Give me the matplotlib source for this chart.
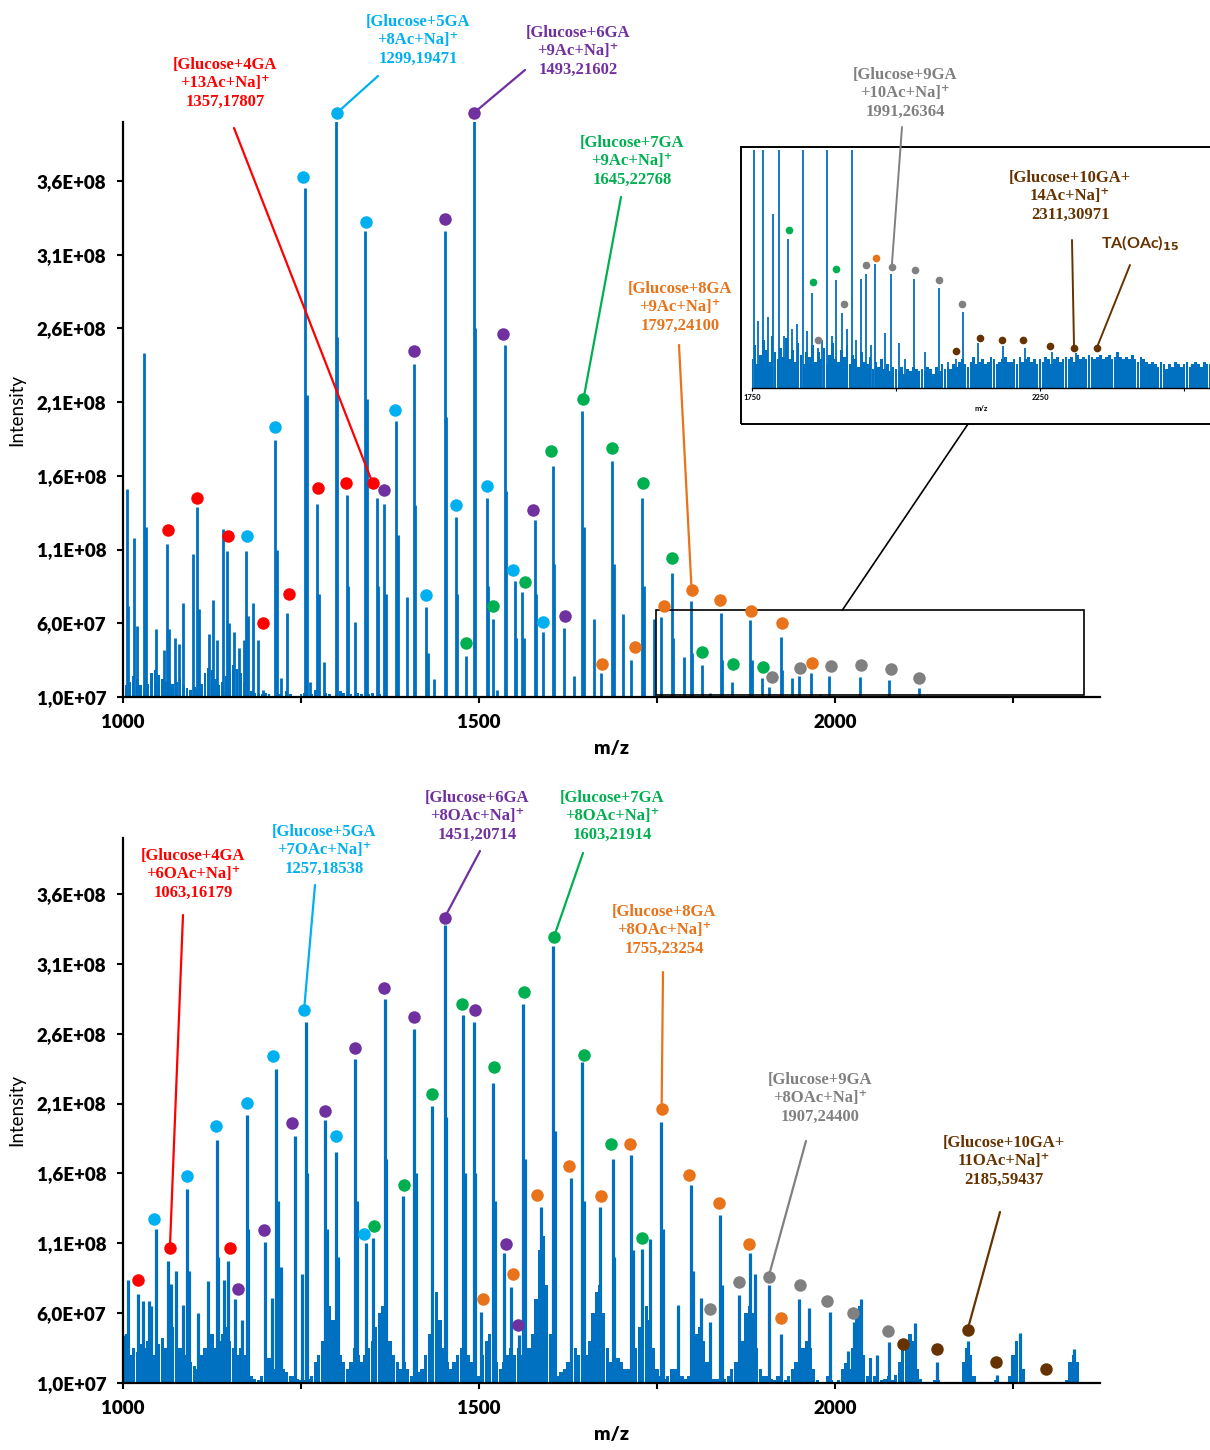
import numpy as np
import matplotlib
matplotlib.use("Agg")
import matplotlib.pyplot as plt
from matplotlib.patches import Rectangle, ConnectionPatch
from matplotlib.ticker import FuncFormatter

W, H = 1210, 1450
SCALE = 1e7          # intensities below are in units of 1E+07
BG_STEP = 5          # m/z spacing of the background traces

# ---------------- upper spectrum ----------------
top_stick_mz = [
    1005, 1006.5, 1016, 1019.5, 1030, 1032.5, 1046, 1057, 1062, 1065,
    1073, 1079, 1084.5, 1098, 1104.5, 1107, 1120.5, 1126.5, 1131.5, 1140,
    1146.5, 1149, 1156.5, 1163, 1169.5, 1173, 1175, 1182.5, 1189, 1196,
    1214, 1216, 1222, 1231, 1256, 1258, 1262, 1272.5, 1275, 1282,
    1298.5, 1300.5, 1314.5, 1316.5, 1325.5, 1340.5, 1342.5, 1356.5, 1358.5, 1367,
    1369, 1383.5, 1385.5, 1399, 1408.5, 1410.5, 1426, 1428, 1437, 1452,
    1454, 1467, 1469, 1481, 1492.5, 1494.5, 1510.5, 1512.5, 1520, 1525,
    1536, 1538, 1550, 1552, 1560.5, 1562.5, 1578, 1580, 1590.5, 1603.5,
    1605.5, 1619.5, 1634, 1645, 1647, 1661, 1671.5, 1687, 1689, 1702,
    1714, 1729.5, 1731.5, 1745, 1756, 1771, 1773, 1787.5, 1797.5, 1799.5,
    1813.5, 1824, 1839.5, 1841.5, 1855, 1881, 1883, 1897, 1907.5, 1923.5,
    1925.5, 1939, 1949.5, 1965.5, 1979, 1992, 2034.5, 2075.5, 2117.5, 2134]
top_stick_int = [
    15.1, 7.2, 11.8, 5.8, 24.3, 12.5, 5.6, 4.2, 11.4, 5.6,
    5.0, 4.6, 7.4, 10.7, 13.9, 7.0, 5.3, 7.6, 4.9, 12.4,
    10.9, 6.0, 5.4, 4.3, 4.9, 10.9, 6.5, 7.4, 4.9, 1.5,
    18.4, 11.0, 2.3, 6.7, 35.5, 21.5, 2.0, 14.1, 8.0, 3.4,
    40.5, 25.4, 14.7, 8.5, 6.1, 32.6, 21.2, 14.5, 8.5, 14.1,
    8.0, 19.7, 12.0, 7.8, 23.6, 14.0, 7.1, 4.0, 2.2, 32.6,
    20.0, 13.2, 8.0, 3.8, 40.5, 26.0, 14.5, 8.5, 6.3, 1.5,
    24.9, 15.0, 8.9, 5.0, 8.1, 5.0, 13.0, 8.0, 5.4, 16.7,
    10.0, 5.7, 2.4, 20.4, 12.5, 6.3, 2.6, 17.0, 10.0, 6.6,
    3.5, 14.5, 8.5, 6.3, 6.4, 9.4, 5.0, 3.7, 7.5, 4.0,
    3.2, 1.3, 6.7, 3.5, 2.0, 6.25, 3.5, 2.3, 1.7, 5.1,
    2.8, 2.3, 2.4, 2.6, 1.2, 2.4, 2.35, 2.15, 1.6, 1.1]
# low-level grass from m/z 1000 upwards
top_bg = [
    1.5, 1.8, 2.0, 2.4, 2.2, 1.8, 1.6, 1.9, 2.6, 2.8,
    2.5, 2.2, 2.0, 2.1, 1.9, 2.0, 2.3, 1.8, 1.6, 1.5,
    1.7, 1.5, 1.9, 2.6, 3.0, 2.8, 2.2, 1.8, 2.0, 2.4,
    2.8, 3.2, 2.9, 2.6, 2.0, 1.6, 1.4, 1.3, 1.2, 1.2,
    1.3, 1.2, 1.1, 1.3, 1.2, 1.1, 1.4, 1.2, 1.1, 1.0,
    1.2, 1.3, 1.1, 1.2, 1.5, 1.2, 1.1, 1.3, 1.2, 1.1,
    1.2, 1.4, 1.3, 1.1, 1.2, 1.1, 1.3, 1.2, 1.1, 1.2,
    1.3, 1.1, 1.2, 1.1, 1.0]

top_red_mz = [1063, 1104, 1148, 1196.4, 1232.8, 1273.5, 1312.8, 1350.6]
top_red_int = [12.35, 14.5, 11.9, 6.0, 8.0, 15.2, 15.5, 15.5]
top_blue_mz = [1174, 1213, 1252.5, 1300, 1341, 1381.5, 1426, 1467, 1510.5, 1548, 1590.5]
top_blue_int = [11.95, 19.3, 36.3, 40.6, 33.2, 20.5, 7.9, 14.0, 15.3, 9.6, 6.1]
top_purple_mz = [1366, 1408, 1451.6, 1492.3, 1533, 1576.4, 1621.3]
top_purple_int = [15.05, 24.5, 33.4, 40.6, 25.6, 13.7, 6.5]
top_green_mz = [1481, 1520, 1565, 1601.7, 1646.6, 1687.2, 1730.7, 1771.4, 1813.5, 1857, 1899]
top_green_int = [4.65, 7.15, 8.8, 17.7, 21.2, 17.9, 15.5, 10.4, 4.06, 3.23, 3.05]
top_orange_mz = [1672.3, 1719.5, 1759.3, 1798.5, 1838.7, 1881.7, 1925.2, 1967.3]
top_orange_int = [3.23, 4.36, 7.15, 8.23, 7.55, 6.84, 6.02, 3.3]
top_gray_mz = [1911.2, 1950.5, 1994.8, 2036.5, 2078.5, 2117.8]
top_gray_int = [2.37, 2.98, 3.1, 3.2, 2.87, 2.26]

# ---------------- inset (m/z 1750-2545, relative scale) ----------------
inset_stick_mz = [
    1753.5, 1769.5, 1786, 1797, 1813, 1820, 1838, 1854, 1864, 1881,
    1896, 1907, 1923, 1939, 1948, 1964, 1980, 1991, 2006, 2032,
    2074.5, 2103.5, 2115.5, 2143, 2186, 2224, 2270, 2313, 2352,
    1760, 1777, 1805, 1828, 1846, 1872, 1888, 1915, 1931, 1956,
    2015, 2050, 2090]
inset_stick_int = [
    105, 105, 73, 105, 62.6, 25, 105, 40, 17, 105,
    45.5, 31.5, 105, 46, 48, 52, 23, 48, 19, 46,
    42, 12, 32, 19, 17.5, 17, 15, 14.5, 13,
    28, 30, 22, 27, 24, 20, 22, 25, 20, 18,
    12, 15, 11]
inset_bg = [
    12, 18, 10, 14, 20, 16, 11, 22, 15, 12,
    17, 13, 21, 12, 16, 11, 19, 14, 10, 15,
    13, 18, 11, 15, 12, 17, 10, 14, 19, 12,
    11, 16, 13, 18, 10, 14, 12, 9, 15, 11,
    10, 13, 8, 11, 9, 12, 8, 10, 7, 9,
    8, 7, 9, 6, 8, 7, 9, 8, 7, 8,
    7, 9, 8, 6, 9, 7, 10, 8, 9, 8,
    10, 9, 11, 12, 10, 9, 11, 13, 10, 11,
    12, 10, 11, 13, 12, 10, 11, 12, 13, 11,
    11, 12, 10, 13, 11, 12, 13, 11, 12, 10,
    12, 11, 13, 12, 10, 12, 13, 11, 12, 13,
    12, 13, 11, 14, 12, 13, 12, 14, 13, 12,
    13, 14, 12, 13, 14, 12, 13, 15, 13, 12,
    13, 12, 14, 12, 11, 13, 12, 11, 10, 11,
    10, 9, 11, 10, 8, 10, 9, 11, 10, 9,
    10, 11, 9, 10, 11, 10, 9, 11, 10, 10]
inset_green_mz = [1814.8, 1856.5, 1895.8]
inset_green_int = [66.2, 44.4, 50.0]
inset_gray_mz = [1864, 1909.7, 1947.9, 1992.5, 2032.4, 2075.2, 2115.2]
inset_gray_int = [20.0, 35.4, 51.5, 50.8, 49.7, 45.2, 35.4]
inset_orange_mz = [1965.3]
inset_orange_int = [54.5]
inset_brown_mz = [2103.5, 2145.8, 2183.4, 2221, 2267.3, 2309, 2348.3]
inset_brown_int = [15.7, 21.0, 20.3, 20.0, 17.8, 16.8, 16.8]

# ---------------- lower spectrum ----------------
bot_stick_mz = [
    1003, 1007.5, 1021.5, 1028.5, 1036.5, 1040, 1046, 1062.5, 1068, 1074.5,
    1084, 1089.5, 1092, 1105, 1119.5, 1131.5, 1134, 1142, 1147.5, 1157,
    1167, 1173.5, 1176, 1199, 1209, 1215.5, 1218, 1222, 1241, 1252,
    1256.5, 1259, 1283.5, 1286, 1299, 1301.5, 1325.5, 1328, 1341, 1351,
    1367.5, 1370, 1393, 1408, 1411, 1434.5, 1451.5, 1454, 1477.5, 1480,
    1492.5, 1495, 1503, 1519.5, 1522, 1535, 1545, 1555.5, 1561.5, 1564,
    1587, 1603.5, 1606, 1629.5, 1645, 1647.5, 1670.5, 1687.5, 1690, 1713.5,
    1716, 1729, 1740, 1755.5, 1758, 1779, 1797.5, 1800, 1812, 1824,
    1838.5, 1841, 1865.5, 1881, 1887, 1907.5, 1924, 1949.5, 1963, 1992.5,
    2018, 2027, 2037, 2059, 2075.5, 2101, 2112, 2143, 2187, 2227.5,
    2260, 2296, 2335]
bot_stick_int = [
    4.4, 8.4, 7.4, 6.9, 6.9, 6.5, 12.0, 9.75, 8.1, 9.0,
    6.6, 14.9, 9.0, 6.0, 8.3, 18.4, 10.0, 8.4, 9.7, 7.0,
    5.5, 20.2, 12.0, 11.1, 7.1, 23.5, 14.0, 9.3, 18.7, 8.8,
    26.8, 16.0, 19.8, 12.0, 17.5, 10.0, 24.2, 14.0, 11.0, 11.4,
    28.5, 17.0, 14.4, 26.3, 16.0, 20.8, 33.8, 20.0, 27.3, 16.0,
    26.8, 16.0, 6.1, 22.5, 14.0, 10.3, 7.9, 4.4, 28.1, 17.0,
    13.6, 32.3, 19.0, 15.7, 24.0, 14.0, 13.6, 17.0, 10.0, 17.3,
    10.5, 10.6, 11.3, 19.7, 12.0, 6.6, 15.2, 9.0, 7.1, 5.4,
    13.0, 8.0, 7.3, 10.3, 8.8, 8.0, 4.5, 7.0, 6.4, 6.1,
    3.3, 5.4, 7.0, 3.0, 3.9, 3.15, 5.3, 2.5, 4.0, 1.6,
    4.6, 1.1, 3.4]
bot_bg = [
    3.5, 4.5, 3.0, 3.5, 3.2, 3.8, 3.5, 4.0, 3.5, 3.0, 3.8, 4.2, 3.5, 4.5, 5.0, 4.5, 3.5, 4.0, 3.0, 2.5,
    2.2, 2.0, 3.0, 3.5, 4.0, 4.5, 3.5, 4.0, 4.5, 5.0, 4.0, 3.5, 3.0, 3.5, 3.0, 2.0, 1.5, 1.3, 1.2, 1.5,
    2.5, 2.8, 2.2, 2.0, 2.5, 2.0, 1.8, 1.5, 1.5, 1.3, 1.2, 1.2, 1.3, 1.5, 2.5, 3.0, 4.0, 5.5, 6.5, 5.5,
    4.0, 3.0, 2.5, 2.0, 2.5, 3.5, 3.0, 2.5, 3.0, 3.5, 4.0, 5.0, 6.0, 6.5, 5.5, 4.0, 3.0, 2.5, 2.0, 2.5,
    2.0, 1.5, 1.5, 1.8, 2.0, 3.0, 4.5, 6.5, 7.5, 5.5, 3.5, 2.5, 2.0, 2.5, 3.0, 3.5, 4.0, 3.0, 2.5, 2.0,
    1.5, 3.0, 4.0, 4.5, 3.5, 2.5, 2.0, 2.5, 3.0, 3.5, 3.0, 3.5, 3.0, 2.5, 3.5, 4.5, 7.0, 10.5, 11.5, 8.0,
    4.5, 2.0, 1.5, 1.8, 2.0, 2.5, 3.0, 3.5, 3.0, 2.5, 3.0, 4.0, 6.0, 7.5, 8.0, 6.0, 3.5, 2.5, 2.5, 2.8,
    2.5, 2.0, 2.0, 2.5, 3.5, 5.0, 6.0, 6.5, 5.5, 3.5, 2.0, 1.5, 1.3, 1.5, 2.0, 2.0, 2.5, 1.5, 1.3, 1.5,
    3.0, 4.5, 5.0, 4.0, 2.5, 1.5, 1.3, 1.3, 1.2, 1.3, 1.5, 2.0, 2.5, 2.5, 4.0, 6.0, 6.5, 6.0, 3.5, 2.0,
    1.5, 1.5, 1.3, 1.2, 1.5, 1.5, 1.2, 1.5, 2.0, 2.5, 3.0, 3.5, 4.0, 3.5, 2.0, 1.2, 1.0, 1.0, 1.5, 1.2,
    1.1, 1.2, 2.0, 2.4, 2.0, 3.5, 6.0, 6.5, 3.0, 1.5, 2.8, 1.5, 1.3, 1.2, 1.3, 1.5, 1.2, 1.6, 2.5, 3.5,
    4.0, 4.5, 4.0, 2.0, 1.3, 1.1, 1.1, 1.1, 1.2, 1.2, 1.1, 1.1, 1.0, 1.0, 1.1, 1.1, 2.5, 3.5, 3.0, 1.5,
    1.1, 1.0, 1.0, 1.0, 1.1, 1.2, 1.1, 1.0, 1.0, 1.5, 3.0, 4.0, 3.5, 2.0, 1.1, 1.0, 1.0, 1.0, 1.0, 1.1,
    1.0, 1.0, 1.0, 1.0, 1.0, 1.2, 2.5, 3.0, 2.5]

bot_red_mz = [1021.5, 1065.9, 1150]
bot_red_int = [8.39, 10.68, 10.68]
bot_blue_mz = [1044, 1089.3, 1130.4, 1173.5, 1210.8, 1254.3, 1299.7, 1338.5]
bot_blue_int = [12.73, 15.83, 19.42, 21.05, 24.4, 27.7, 18.65, 11.68]
bot_purple_mz = [1160.8, 1198.2, 1238, 1284.3, 1325.4, 1366.5, 1408, 1451.6, 1494.6, 1538, 1555.4]
bot_purple_int = [7.75, 11.96, 19.57, 20.5, 25.0, 29.3, 27.2, 34.3, 27.7, 10.95, 5.14]
bot_green_mz = [1352, 1394, 1433.8, 1475.5, 1520.3, 1562.8, 1605, 1647, 1685.8, 1728.4]
bot_green_int = [12.27, 15.2, 21.7, 28.1, 23.6, 29.0, 32.9, 24.5, 18.1, 11.4]
bot_orange_mz = [1505.9, 1547, 1581.6, 1627, 1670.8, 1712, 1756.4, 1795.2, 1837.3, 1878.4, 1923.8]
bot_orange_int = [7.0, 8.8, 14.45, 16.5, 14.35, 18.1, 20.6, 15.9, 13.9, 10.95, 5.67]
bot_gray_mz = [1824.7, 1865.4, 1906.5, 1950.5, 1988.8, 2025.2, 2074.3]
bot_gray_int = [6.28, 8.21, 8.58, 8.0, 6.88, 6.0, 4.73]
bot_brown_mz = [2095.8, 2142.6, 2186, 2225.4, 2296.4]
bot_brown_int = [3.78, 3.44, 4.8, 2.48, 2.0]

# ---------------- styling ----------------
SPEC = "#0070C0"
RED, BLUE, PURPLE, GREEN = "#FF0000", "#00B0F0", "#7030A0", "#00B050"
ORANGE, GRAY, BROWN = "#E8731A", "#808080", "#663300"
SERIF = ["Liberation Serif", "DejaVu Serif"]
SANS = ["Lato", "DejaVu Sans"]

plt.rcParams["font.family"] = SANS

fig = plt.figure(figsize=(W / 100, H / 100), dpi=100)
fig.patch.set_facecolor("white")


def fx(px):
    return px / W


def fy(py):
    return 1 - py / H


def sci_comma(v, pos):
    return f"{v:.1E}".replace(".", ",")


def setup_axis(ax):
    ax.set_xlim(1000, 2372)
    ax.set_ylim(1e7, 4.0e8)
    for s in ("top", "right"):
        ax.spines[s].set_visible(False)
    for s in ("left", "bottom"):
        ax.spines[s].set_linewidth(1.6)
    ax.set_xticks([1000, 1250, 1500, 1750, 2000, 2250])
    ax.set_xticklabels(["1000", "", "1500", "", "2000", ""])
    ax.set_yticks(np.arange(1e7, 3.7e8, 5e7))
    ax.yaxis.set_major_formatter(FuncFormatter(sci_comma))
    ax.tick_params(axis="both", direction="out", length=4, width=1.5,
                   labelsize=13.5, pad=8)
    for lab in ax.get_xticklabels() + ax.get_yticklabels():
        lab.set_fontweight("heavy")
    ax.set_xlabel("m/z", fontsize=14, fontweight="heavy", labelpad=7)
    ax.set_ylabel("Intensity", fontsize=13.5)
    ax.yaxis.set_label_coords(-0.1, 0.5)


def spectrum(ax, bg, bg_start, mz, inten, bg_width, lw=2.0):
    bg = np.asarray(bg, float)
    bg_mz = bg_start + BG_STEP * np.arange(len(bg))
    ax.bar(bg_mz, bg * SCALE, width=bg_width, color=SPEC, linewidth=0, zorder=1)
    ax.vlines(mz, 0, np.asarray(inten) * SCALE, color=SPEC, lw=lw, zorder=2)


def dots(ax, mz, inten, color, size=9, scale=SCALE):
    ax.plot(mz, np.asarray(inten) * scale, "o", color=color, ms=size,
            mec="none", zorder=5, clip_on=False)


def label(px, py, text, color, family=SERIF, size=12, weight="bold"):
    fig.text(fx(px), fy(py), text, color=color, family=family, fontsize=size,
             fontweight=weight, ha="center", va="center", linespacing=1.2,
             multialignment="center")


def leader(start_px, ax, xy, color, lw=1.6):
    con = ConnectionPatch(xyA=(fx(start_px[0]), fy(start_px[1])), coordsA="figure fraction",
                          xyB=xy, coordsB=ax.transData, color=color, lw=lw, zorder=4)
    fig.add_artist(con)


# ===== upper panel =====
ax1 = fig.add_axes([fx(123), fy(697), (1100 - 123) / W, (697 - 122) / H])
setup_axis(ax1)
spectrum(ax1, top_bg, 1000, top_stick_mz, top_stick_int, bg_width=3.8)
for mz, it, c in [(top_red_mz, top_red_int, RED), (top_blue_mz, top_blue_int, BLUE),
                  (top_purple_mz, top_purple_int, PURPLE), (top_green_mz, top_green_int, GREEN),
                  (top_orange_mz, top_orange_int, ORANGE), (top_gray_mz, top_gray_int, GRAY)]:
    dots(ax1, mz, it, c)

# zoom window and its link to the inset
ax1.add_patch(Rectangle((1748, 1.13e7), 602, 5.75e7, fill=False, ec="black",
                        lw=1.2, zorder=3, clip_on=False))
fig.add_artist(ConnectionPatch(xyA=(2010, 6.88e7), coordsA=ax1.transData,
                               xyB=(fx(968), fy(424)), coordsB="figure fraction",
                               color="black", lw=1.2))

# inset
fig.add_artist(Rectangle((fx(741), fy(424)), (1230 - 741) / W, (424 - 147) / H,
                         transform=fig.transFigure, fill=False, ec="black", lw=1.4))
axi = fig.add_axes([fx(752), fy(388), (1210 - 752) / W, (388 - 150) / H])
axi.set_xlim(1750, 2545)
axi.set_ylim(0, 100)
for s in ("top", "right", "left"):
    axi.spines[s].set_visible(False)
axi.spines["bottom"].set_linewidth(1.0)
axi.set_yticks([])
axi.set_xticks([1750, 2000, 2250, 2500])
axi.set_xticklabels(["1750", "", "2250", ""])
axi.tick_params(axis="x", length=2.5, width=0.8, labelsize=5.5, pad=2)
for lab in axi.get_xticklabels():
    lab.set_fontweight("bold")
axi.set_xlabel("m/z", fontsize=5.5, fontweight="bold", labelpad=3)
ibg = np.asarray(inset_bg, float)
axi.bar(1750 + BG_STEP * np.arange(len(ibg)), ibg, width=4.6, color=SPEC, linewidth=0)
axi.vlines(inset_stick_mz, 0, inset_stick_int, color=SPEC, lw=1.3)
for mz, it, c in [(inset_green_mz, inset_green_int, GREEN), (inset_gray_mz, inset_gray_int, GRAY),
                  (inset_orange_mz, inset_orange_int, ORANGE), (inset_brown_mz, inset_brown_int, BROWN)]:
    dots(axi, mz, it, c, size=5.5, scale=1)

label(225, 83, "[Glucose+4GA\n+13Ac+Na]\u207a\n1357,17807", RED)
leader((234, 128), ax1, (1350.6, 15.5 * SCALE), RED)
label(418, 40, "[Glucose+5GA\n+8Ac+Na]\u207a\n1299,19471", BLUE)
leader((378, 76), ax1, (1300, 40.6 * SCALE), BLUE)
label(578, 51, "[Glucose+6GA\n+9Ac+Na]\u207a\n1493,21602", PURPLE)
leader((525, 70), ax1, (1492.3, 40.6 * SCALE), PURPLE)
label(632, 161, "[Glucose+7GA\n+9Ac+Na]\u207a\n1645,22768", GREEN)
leader((621, 197), ax1, (1646.6, 21.2 * SCALE), GREEN)
label(680, 307, "[Glucose+8GA\n+9Ac+Na]\u207a\n1797,24100", ORANGE)
leader((679, 345), ax1, (1798.5, 8.23 * SCALE), ORANGE)
label(905, 93, "[Glucose+9GA\n+10Ac+Na]\u207a\n1991,26364", GRAY)
leader((902, 127), axi, (1992.5, 50.8), GRAY, lw=1.4)
label(1070, 196, "[Glucose+10GA+\n14Ac+Na]\u207a\n2311,30971", BROWN)
leader((1072, 240), axi, (2309, 16.8), BROWN, lw=1.4)
label(1140, 243, r"TA(OAc)$_{\mathbf{15}}$", BROWN, family=SANS, size=11.5)
leader((1130, 265), axi, (2348.3, 16.8), BROWN, lw=1.4)

# ===== lower panel =====
ax2 = fig.add_axes([fx(123), fy(1383), (1100 - 123) / W, (1383 - 838) / H])
setup_axis(ax2)
spectrum(ax2, bot_bg, 1000, bot_stick_mz, bot_stick_int, bg_width=4.6, lw=2.3)
for mz, it, c in [(bot_red_mz, bot_red_int, RED), (bot_blue_mz, bot_blue_int, BLUE),
                  (bot_purple_mz, bot_purple_int, PURPLE), (bot_green_mz, bot_green_int, GREEN),
                  (bot_orange_mz, bot_orange_int, ORANGE), (bot_gray_mz, bot_gray_int, GRAY),
                  (bot_brown_mz, bot_brown_int, BROWN)]:
    dots(ax2, mz, it, c)

label(193, 874, "[Glucose+4GA\n+6OAc+Na]\u207a\n1063,16179", RED)
leader((183, 915), ax2, (1065.9, 10.68 * SCALE), RED)
label(324, 850, "[Glucose+5GA\n+7OAc+Na]\u207a\n1257,18538", BLUE)
leader((315, 885), ax2, (1254.3, 27.7 * SCALE), BLUE)
label(477, 816, "[Glucose+6GA\n+8OAc+Na]\u207a\n1451,20714", PURPLE)
leader((480, 851), ax2, (1451.6, 34.3 * SCALE), PURPLE)
label(612, 816, "[Glucose+7GA\n+8OAc+Na]\u207a\n1603,21914", GREEN)
leader((583, 853), ax2, (1605, 32.9 * SCALE), GREEN)
label(664, 930, "[Glucose+8GA\n+8OAc+Na]\u207a\n1755,23254", ORANGE)
leader((663, 972), ax2, (1756.4, 20.6 * SCALE), ORANGE)
label(820, 1098, "[Glucose+9GA\n+8OAc+Na]\u207a\n1907,24400", GRAY)
leader((806, 1141), ax2, (1906.5, 8.58 * SCALE), GRAY)
label(1004, 1161, "[Glucose+10GA+\n11OAc+Na]\u207a\n2185,59437", BROWN)
leader((1000, 1212), ax2, (2186, 4.8 * SCALE), BROWN)

fig.savefig("out.png", dpi=100, facecolor="white")
